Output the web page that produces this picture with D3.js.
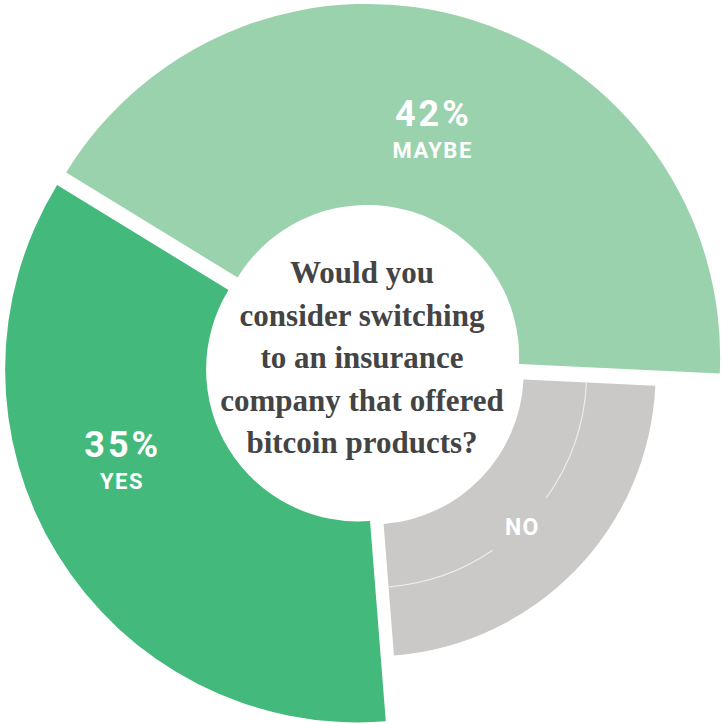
<!DOCTYPE html>
<html>
<head>
<meta charset="utf-8">
<script src="https://cdn.jsdelivr.net/npm/d3@7"></script>
<style>
  body { margin: 0; background: #fff; }
  svg { display: block; }
</style>
</head>
<body>
<svg id="chart"></svg>
<script>
(function () {
    'use strict';

    // data
    var categories = ['MAYBE', 'NO', 'YES'];
    var values = [42, 23, 35];
    var percentLabels = ['42%', '', '35%'];
    var questionLines = ['Would you', 'consider switching', 'to an insurance', 'company that offered', 'bitcoin products?'];

    // styles
    var colors = ['#9ad2ad', '#cac9c8', '#43ba7c'];
    var outerRadii = [353, 284, 353];
    var explode = [9, 10, 7.5];
    var labelFraction = [0.495, 0.52, 0.573];
    var labelRadius = [230, 215, 256];

    var width = 723, height = 724;
    var cx = 364.5, cy = 365.5;
    var innerRadius = 152;
    var noLineRadius = 215;
    var deg = Math.PI / 180;

    var svg = d3.select('#chart')
        .attr('width', width)
        .attr('height', height);

    var pie = d3.pie()
        .sort(null)
        .value(function (d) { return d; })
        .startAngle(-58.5 * deg)
        .endAngle(301.5 * deg);

    var arcs = pie(values);

    var slices = svg.selectAll('g.slice')
        .data(arcs)
        .enter().append('g')
        .attr('class', 'slice')
        .attr('transform', function (d, i) {
            var mid = (d.startAngle + d.endAngle) / 2;
            var x = cx + explode[i] * Math.sin(mid);
            var y = cy - explode[i] * Math.cos(mid);
            return 'translate(' + x + ',' + y + ')';
        });

    slices.append('path')
        .attr('d', function (d, i) {
            return d3.arc().innerRadius(innerRadius).outerRadius(outerRadii[i])(d);
        })
        .attr('fill', function (d, i) { return colors[i]; });

    function labelAngle(d, i) {
        return d.startAngle + (d.endAngle - d.startAngle) * labelFraction[i];
    }

    // thin guide line inside the NO slice, broken around its label
    var noIndex = categories.indexOf('NO');
    var noArc = arcs[noIndex];
    var gap = 10 * deg;
    var noMid = labelAngle(noArc, noIndex);
    var thinArc = d3.arc().innerRadius(noLineRadius - 0.6).outerRadius(noLineRadius + 0.6);
    var noGroup = d3.select(slices.nodes()[noIndex]);
    [[noArc.startAngle, noMid - gap], [noMid + gap, noArc.endAngle]].forEach(function (seg) {
        noGroup.append('path')
            .attr('d', thinArc({ startAngle: seg[0], endAngle: seg[1] }))
            .attr('fill', '#ececec');
    });

    // slice labels
    slices.each(function (d, i) {
        var g = d3.select(this);
        var a = labelAngle(d, i);
        var x = labelRadius[i] * Math.sin(a);
        var y = -labelRadius[i] * Math.cos(a);
        if (percentLabels[i]) {
            g.append('text')
                .attr('x', x + 1.5)
                .attr('y', y - 10)
                .attr('text-anchor', 'middle')
                .attr('font-family', 'Roboto, sans-serif')
                .attr('font-weight', 700)
                .attr('font-size', 36)
                .attr('letter-spacing', 3)
                .attr('fill', '#fff')
                .text(percentLabels[i]);
            g.append('text')
                .attr('x', x + 0.75)
                .attr('y', y + 22)
                .attr('text-anchor', 'middle')
                .attr('font-family', 'Roboto, sans-serif')
                .attr('font-weight', 700)
                .attr('font-size', 22)
                .attr('letter-spacing', 1.5)
                .attr('fill', '#fff')
                .text(categories[i]);
        } else {
            g.append('text')
                .attr('x', x + 0.75)
                .attr('y', y + 8.5)
                .attr('text-anchor', 'middle')
                .attr('font-family', 'Roboto, sans-serif')
                .attr('font-weight', 700)
                .attr('font-size', 23)
                .attr('letter-spacing', 1.5)
                .attr('fill', '#fff')
                .text(categories[i]);
        }
    });

    // question in the middle
    var lineHeight = 42.4;
    svg.append('text')
        .attr('text-anchor', 'middle')
        .attr('font-family', '"Liberation Serif", serif')
        .attr('font-weight', 700)
        .attr('font-size', 31)
        .attr('fill', '#444')
        .selectAll('tspan')
        .data(questionLines)
        .enter().append('tspan')
        .attr('x', 362)
        .attr('y', function (d, i) { return 283.3 + i * lineHeight; })
        .text(function (d) { return d; });
}());
</script>
</body>
</html>
